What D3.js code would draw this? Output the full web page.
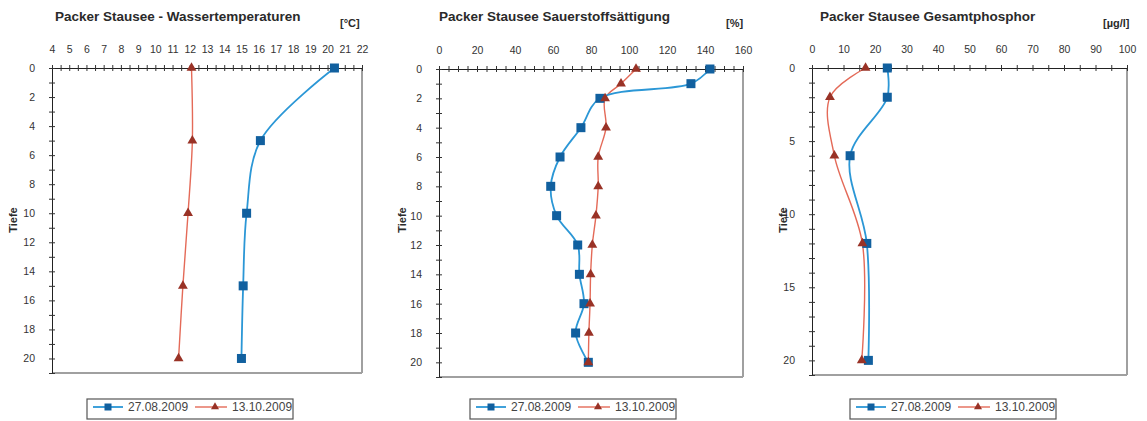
<!DOCTYPE html>
<html><head><meta charset="utf-8">
<script src="https://cdn.jsdelivr.net/npm/d3@7"></script>
<style>
html,body{margin:0;padding:0;background:#fff;}
svg{display:block;font-family:"Liberation Sans",Arial,sans-serif;}
</style></head>
<body>
<svg id="chart" width="1147" height="421"></svg>
<script>
// ---- data ----
const seriesNames = ["27.08.2009", "13.10.2009"];

const titles = ["Packer Stausee - Wassertemperaturen", "Packer Stausee Sauerstoffsättigung", "Packer Stausee Gesamtphosphor"];
const units = ["[°C]", "[%]", "[µg/l]"];

const depthTemp = [0, 5, 10, 15, 20];
const temp0827 = [20.4, 16.1, 15.3, 15.1, 15.0];
const temp1013 = [12.1, 12.15, 11.9, 11.6, 11.35];

const depthO2 = [0, 1, 2, 4, 6, 8, 10, 12, 14, 16, 18, 20];
const o2_0827 = [142.6, 132.6, 84.7, 74.7, 63.7, 58.8, 61.9, 73.0, 73.9, 76.3, 71.9, 78.6];
const o2_1013 = [103.7, 95.8, 87.4, 87.9, 83.8, 83.8, 82.6, 80.7, 79.8, 79.5, 78.9, 78.6];

const depthP = [0, 2, 6, 12, 20];
const p0827 = [23.9, 23.9, 12.1, 17.4, 17.9];
const p1013 = [17.0, 5.7, 7.1, 16.0, 15.8];

const xTicksTemp = d3.range(4, 23, 1);
const xTicksO2 = [0, 20, 40, 60, 80, 100, 120, 140, 160];
const xTicksP = [0, 10, 20, 30, 40, 50, 60, 70, 80, 90, 100];
const yTicksEven = [0, 2, 4, 6, 8, 10, 12, 14, 16, 18, 20];
const yTicksFive = [0, 5, 10, 15, 20];

// ---- layout / style ----
const BLUE_LINE = "#2b97d6", BLUE_MARK = "#11609f";
const RED_LINE = "#e46a58", RED_MARK = "#993226";
const TXT = "#333";

const panels = [
  {l:52, r:362, t:68, b:373, xd:[4,22], xt:xTicksTemp, xminor:0.5, yt:yTicksEven,
   depth:depthTemp, s:[temp0827, temp1013], title:titles[0], unit:units[0],
   titleX:55, unitX:340, tiefeX:13, legX:87},
  {l:439, r:743, t:69, b:377, xd:[0,160], xt:xTicksO2, xminor:5, yt:yTicksEven,
   depth:depthO2, s:[o2_0827, o2_1013], title:titles[1], unit:units[1],
   titleX:439, unitX:726, tiefeX:402, legX:470},
  {l:812, r:1127, t:68, b:375, xd:[0,100], xt:xTicksP, xminor:5, yt:yTicksFive,
   depth:depthP, s:[p0827, p1013], title:titles[2], unit:units[2],
   titleX:820, unitX:1103, tiefeX:783, legX:850}
];

const svg = d3.select("#chart");

function marker(g, type, x, y) {
  if (type === 0) {
    g.append("rect").attr("x", x - 4.5).attr("y", y - 4.5).attr("width", 9).attr("height", 9)
      .attr("fill", BLUE_MARK);
  } else {
    g.append("path").attr("d", d3.symbol().type(d3.symbolTriangle).size(42)())
      .attr("transform", `translate(${x},${y})`).attr("fill", RED_MARK);
  }
}

panels.forEach((p) => {
  const g = svg.append("g");
  const x = d3.scaleLinear().domain(p.xd).range([p.l, p.r]);
  const y = d3.scaleLinear().domain([0, 21]).range([p.t, p.b]);

  // plot frame (right/bottom grey)
  g.append("line").attr("x1", p.r).attr("x2", p.r).attr("y1", p.t).attr("y2", p.b)
    .attr("stroke", "#a0a0a0").attr("stroke-width", 2);
  g.append("line").attr("x1", p.l).attr("x2", p.r).attr("y1", p.b).attr("y2", p.b)
    .attr("stroke", "#a0a0a0").attr("stroke-width", 2);

  // top axis
  const minorX = d3.range(p.xd[0], p.xd[1] + 1e-9, p.xminor);
  const top = g.append("g").attr("transform", `translate(0,${p.t})`)
    .call(d3.axisTop(x).tickValues(minorX).tickSize(3).tickFormat(""));
  top.selectAll(".tick line").attr("y2", 6).attr("transform", "translate(0,-3)").attr("y1", 0)
    .attr("stroke", "#333");
  top.select(".domain").attr("stroke", "#222");
  const topL = g.append("g").attr("transform", `translate(0,${p.t})`)
    .call(d3.axisTop(x).tickValues(p.xt).tickSize(0).tickPadding(15));
  topL.select(".domain").remove();
  topL.selectAll("text").attr("font-size", 10.5).attr("fill", TXT)
    .attr("font-family", "Liberation Sans, Arial, sans-serif");

  // left axis
  const minorY = d3.range(0, 21.001, 1);
  const left = g.append("g").attr("transform", `translate(${p.l},0)`)
    .call(d3.axisLeft(y).tickValues(minorY).tickSize(3).tickFormat(""));
  left.selectAll(".tick line").attr("x1", 3).attr("x2", -3).attr("stroke", "#333");
  left.select(".domain").attr("stroke", "#222");
  const leftL = g.append("g").attr("transform", `translate(${p.l},0)`)
    .call(d3.axisLeft(y).tickValues(p.yt).tickSize(0).tickPadding(17));
  leftL.select(".domain").remove();
  leftL.selectAll("text").attr("font-size", 10.5).attr("fill", TXT)
    .attr("font-family", "Liberation Sans, Arial, sans-serif");

  // title & unit
  g.append("text").attr("x", p.titleX).attr("y", 21).text(p.title)
    .attr("font-size", 13.5).attr("font-weight", "bold").attr("fill", "#2a2a2a");
  g.append("text").attr("x", p.unitX).attr("y", 27).text(p.unit)
    .attr("font-size", 11).attr("font-weight", "bold").attr("fill", "#2a2a2a");

  // y label
  g.append("text").attr("transform", `translate(${p.tiefeX + 4},${220}) rotate(-90)`)
    .attr("text-anchor", "middle").text("Tiefe")
    .attr("font-size", 11).attr("font-weight", "bold").attr("fill", "#2a2a2a");

  // series
  const line = d3.line().x(d => x(d[0])).y(d => y(d[1])).curve(d3.curveCatmullRom.alpha(0.5));
  [1, 0].forEach(si => {
    const pts = p.s[si].map((v, i) => [v, p.depth[i]]);
    g.append("path").attr("d", line(pts)).attr("fill", "none")
      .attr("stroke", si === 0 ? BLUE_LINE : RED_LINE).attr("stroke-width", si === 0 ? 1.8 : 1.4);
  });
  [0, 1].forEach(si => {
    p.s[si].forEach((v, i) => marker(g, si, x(v), y(p.depth[i])));
  });

  // legend
  const lg = g.append("g").attr("transform", `translate(${p.legX},399)`);
  lg.append("rect").attr("x", 0).attr("y", 0).attr("width", 206).attr("height", 20)
    .attr("fill", "#fff").attr("stroke", "#555").attr("stroke-width", 1.2);
  lg.append("line").attr("x1", 6).attr("x2", 36).attr("y1", 8).attr("y2", 8)
    .attr("stroke", BLUE_LINE).attr("stroke-width", 1.8);
  lg.append("rect").attr("x", 21 - 3.5).attr("y", 4.5).attr("width", 7).attr("height", 7).attr("fill", BLUE_MARK);
  lg.append("text").attr("x", 41).attr("y", 12).text(seriesNames[0])
    .attr("font-size", 12).attr("fill", "#444");
  lg.append("line").attr("x1", 108).attr("x2", 140).attr("y1", 8).attr("y2", 8)
    .attr("stroke", RED_LINE).attr("stroke-width", 1.4);
  lg.append("path").attr("d", d3.symbol().type(d3.symbolTriangle).size(28)())
    .attr("transform", "translate(128,8)").attr("fill", RED_MARK);
  lg.append("text").attr("x", 145).attr("y", 12).text(seriesNames[1])
    .attr("font-size", 12).attr("fill", "#444");
});
</script>
</body></html>
